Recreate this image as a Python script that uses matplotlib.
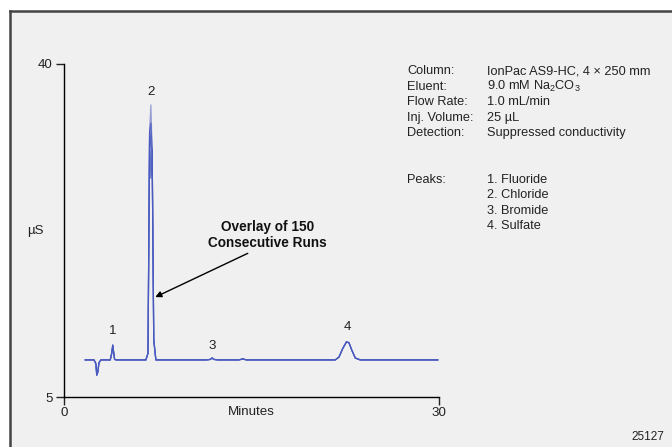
import matplotlib
matplotlib.use("Agg")
import matplotlib.pyplot as plt
from matplotlib.patches import Rectangle
from matplotlib.lines import Line2D

plt.rcParams['font.family'] = ['Liberation Sans', 'DejaVu Sans']
plt.rcParams['mathtext.fontset'] = 'custom'
plt.rcParams['mathtext.rm'] = 'Liberation Sans'

# trace (minutes, uS)
times = [1.7, 2.4, 2.55, 2.62, 2.7, 2.8, 2.95, 3.7, 3.82, 3.9, 3.97, 4.05, 4.2,
         6.55, 6.72, 6.85, 6.95, 7.05, 7.18, 7.35, 11.4, 11.7, 11.85, 12.0, 12.3,
         14.0, 14.3, 14.6, 21.7, 22.0, 22.3, 22.6, 22.8, 23.0, 23.3, 23.7, 29.9]
signal = [8.9, 8.9, 8.5, 7.3, 7.6, 8.6, 8.9, 8.9, 9.6, 10.45, 9.7, 8.95, 8.9,
          8.9, 9.6, 33.0, 35.7, 31.0, 11.0, 8.9, 8.9, 8.95, 9.1, 8.95, 8.9,
          8.9, 9.0, 8.9, 8.9, 9.2, 10.1, 10.8, 10.7, 10.0, 9.1, 8.9, 8.9]

# apex heights of chloride among the overlaid runs
chloride_apex = [35.7, 33.8, 31.5, 28.0]
apex_idx = 16

peak_labels = ['1', '2', '3', '4']
peak_label_x = [3.9, 7.0, 11.85, 22.7]
peak_label_y = [11.9, 37.1, 10.35, 12.35]

info_keys = ['Column:', 'Eluent:', 'Flow Rate:', 'Inj. Volume:', 'Detection:', '', '',
             'Peaks:', '', '', '']
info_vals = ['IonPac AS9-HC, 4 × 250 mm', r'9.0 mM Na$_2$CO$_3$', '1.0 mL/min', '25 µL',
             'Suppressed conductivity', '', '', '1. Fluoride', '2. Chloride',
             '3. Bromide', '4. Sulfate']

W, H = 672, 447
fs = 9.2
fig = plt.figure(figsize=(W / 100, H / 100), dpi=100)
fig.patch.set_facecolor('white')
fig.patches.append(Rectangle((10 / W, 0), 1 - 10 / W, 1 - 11 / H, transform=fig.transFigure,
                             facecolor='#f0f0f0', edgecolor='none', zorder=-10))
fig.lines.append(Line2D([10 / W, 1], [1 - 11 / H, 1 - 11 / H], transform=fig.transFigure,
                        color='#444444', lw=1.8))
fig.lines.append(Line2D([10 / W, 10 / W], [0, 1 - 11 / H], transform=fig.transFigure,
                        color='#444444', lw=1.8))

ax = fig.add_axes([64 / W, 1 - 397 / H, 375 / W, 333 / H])
ax.set_facecolor('none')

for i, apex in enumerate(chloride_apex):
    vals = list(signal)
    vals[apex_idx] = apex
    ax.plot(times, vals, color='#4a5bc0' if i else '#8890d0', lw=0.9, alpha=0.85)

for lab, lx, ly in zip(peak_labels, peak_label_x, peak_label_y):
    ax.text(lx, ly, lab, ha='center', va='center', fontsize=fs + 0.4, color='#222222')

ax.text(16.3, 22.0, 'Overlay of 150\nConsecutive Runs', ha='center', va='center',
        fontsize=fs + 0.6, fontweight='bold', color='#111111', linespacing=1.2)
ax.annotate('', xy=(7.3, 15.5), xytext=(14.7, 20.1),
            arrowprops=dict(arrowstyle='-|>', color='black', lw=1.0, mutation_scale=9,
                            shrinkA=0, shrinkB=0))

ax.set_xlim(0, 30)
ax.set_ylim(5, 40)
ax.set_xticks([0, 30])
ax.set_yticks([5, 40])
for s in ['top', 'right']:
    ax.spines[s].set_visible(False)
for s in ['left', 'bottom']:
    ax.spines[s].set_linewidth(1.0)
ax.tick_params(length=6, width=1.0, labelsize=fs + 0.4, colors='#222222', pad=1)
ax.tick_params(axis='y', pad=2)
ax.set_xlabel('Minutes', fontsize=fs + 0.4, labelpad=-9, color='#222222')
ax.set_ylabel('µS', fontsize=fs + 0.4, rotation=0, labelpad=0, color='#222222')
ax.yaxis.set_label_coords(-0.075, 0.48)

y0 = 71
for k, v in zip(info_keys, info_vals):
    if k:
        fig.text(407 / W, 1 - y0 / H, k, fontsize=fs, va='center', color='#222222')
    if v:
        fig.text(487 / W, 1 - y0 / H, v, fontsize=fs, va='center', color='#222222')
    y0 += 15.5

fig.text(648 / W, 1 - 437 / H, '25127', fontsize=8.5, ha='center', va='center', color='#222222')

fig.savefig('out.png', dpi=100, facecolor=fig.get_facecolor())
